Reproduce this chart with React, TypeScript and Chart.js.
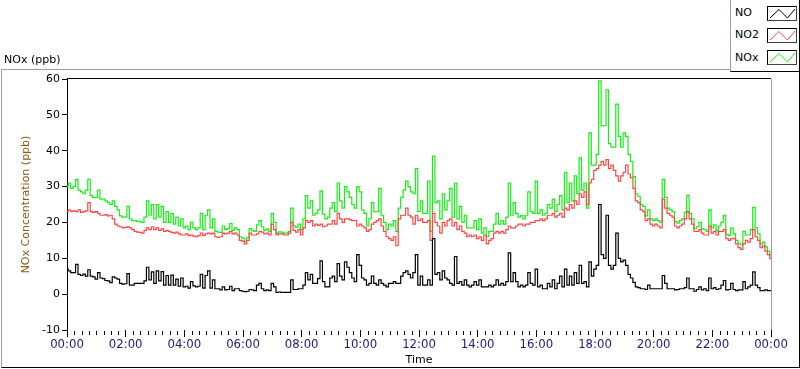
import React, { useEffect, useRef } from "react";
import { Chart, registerables } from "chart.js";

Chart.register(...registerables);

// Sampling interval of the series (minutes) and x range
const SAMPLE_MINUTES = 5;
const X_MIN = 0;
const X_MAX = 1440;
const MAJOR_STEP = 120;
const MINOR_STEP = 15;
const Y_MIN = -10;
const Y_MAX = 60;
const Y_STEP = 10;

// NO (ppb), 5-minute values 00:00 .. 24:00
const NO = [
  7, 6.5, 6, 6, 8.3, 5.5, 5.2, 5.6, 5, 6.8, 5, 4.8,
  4.2, 6, 4.5, 4.3, 3.8, 3.7, 3.2, 4.8, 4.5, 4.2, 3, 2.8,
  2.9, 5.7, 2.5, 2.5, 3, 3, 3, 3, 3.7, 7.5, 4, 6.2,
  3, 6.5, 3.7, 6.3, 2.5, 5.2, 2.5, 5.3, 2.5, 4.2, 2.2, 4.5,
  2, 2.2, 1.7, 3.5, 2.3, 2, 2.2, 5.5, 1.7, 5.2, 6.5, 1.7,
  4, 1.5, 1.5, 1.2, 2, 1.2, 1.3, 2.2, 1, 1.5, 1.5, 1,
  0.8, 0.7, 0.8, 1.3, 1.2, 1, 2.5, 3, 1.5, 1, 1.2, 1,
  3, 2, 0.5, 0.6, 0.5, 0.5, 0.5, 0.5, 4, 1.3, 1.3, 1.5,
  1.5, 2.5, 6, 4, 5.5, 3, 3, 4.3, 9.3, 3.5, 2, 2,
  4.5, 5, 3.5, 8.5, 5, 4, 9, 7.5, 6, 4.5, 3.5, 11,
  8, 4.5, 4, 2.5, 3, 5, 3, 2.5, 4, 3, 2.5, 2,
  3, 3, 3.5, 3, 3, 5, 6, 6.5, 5.5, 4.5, 6, 11,
  2.5, 5, 2.5, 2.5, 4, 2.5, 15.5, 5.5, 6, 4, 6.5, 4.5,
  4, 3, 2.5, 10.5, 3, 3.5, 2.5, 4, 2.5, 2, 2.5, 3.5,
  2.5, 4, 2, 2, 2, 2.5, 2, 2.5, 4, 2.5, 3, 2.5,
  3.5, 11.5, 3.5, 6, 3.5, 2, 2.5, 2, 2.5, 6, 3, 2.5,
  7, 2, 2.5, 1.5, 1.5, 3, 2, 4, 1.5, 3, 5, 2,
  7, 2.5, 5, 2.5, 6, 3, 8, 3, 3.5, 2, 9, 5,
  7, 8, 25, 11, 10, 22, 8, 7, 8, 17, 10, 9,
  9.5, 8, 5.5, 4.5, 3.3, 2, 1.8, 1.5, 1.5, 1.3, 2.5, 1.5,
  1.5, 1.5, 1.5, 1.5, 5.2, 3, 1.5, 1.5, 1.5, 1.2, 1.3, 1.5,
  1.5, 1.8, 4.5, 1.5, 1.5, 0.8, 1.3, 2, 1.2, 1.5, 1, 4.5,
  1.5, 1.8, 1.3, 1.5, 2.5, 3.8, 1.2, 1.3, 3, 1.3, 1, 1.2,
  1.2, 3.5, 1.5, 2, 2.5, 6.2, 2.5, 1.8, 1, 1, 1.2, 1,
  1,
];

// NO2 (ppb)
const NO2 = [
  23, 23.5, 23, 23.2, 23, 23.5, 22.8, 23, 23.2, 25.5, 23, 22.8,
  23, 22.5, 22, 22, 22.2, 21.8, 22, 21, 19.5, 19, 18.8, 18.5,
  18.6, 18.8, 18.5, 18, 17.5, 17.3, 17.2, 17, 17.8, 18.5, 18, 18.8,
  18, 18.5, 17.8, 18.2, 17.5, 17.8, 17.5, 17.2, 17, 17.3, 16.8, 16.5,
  16.5, 16.8, 16.3, 16.5, 16.2, 16, 16.3, 17, 16.3, 16.8, 17, 16.8,
  17, 16, 15.8, 16, 17, 16.8, 17, 17.5, 16.8, 17, 16.5, 15,
  14.8, 14, 15, 17, 16.5, 16.5, 16.8, 17.5, 17.3, 16.8, 17, 16.5,
  19.5, 18, 16.5, 16.8, 16.8, 16.5, 16.5, 17, 20, 17.8, 17.3, 18,
  16.5, 18.5, 20.5, 20, 20.5, 19, 19.5, 19.2, 19.5, 18.8, 19, 19.5,
  19.5, 20.5, 19.5, 22.5, 21, 20, 21, 21, 20.8, 20.5, 20.5, 19,
  19.5, 19, 18.5, 17.5, 18, 19.5, 20, 20.5, 21, 19, 17.5, 16,
  15.5, 15, 16, 13.5, 21, 22, 22, 24, 22, 21.5, 19.5, 22,
  20.5, 21, 20, 20, 20.5, 15, 22.5, 20, 19, 17, 20, 19,
  20.5, 21, 19, 20, 18, 19, 17.5, 17, 16, 16.5, 16, 16.5,
  15.5, 16, 15, 16.5, 14, 15, 15.5, 17, 17.5, 17, 17.5, 17,
  18, 19, 18.5, 18.5, 19, 19.5, 19.5, 19, 19.5, 19.5, 20, 20,
  20.5, 20.5, 21, 20.5, 21, 22, 22, 22.5, 21.5, 22, 22.5, 21.5,
  24, 23.5, 25, 24, 26, 25, 28, 27, 28.5, 25, 31, 32,
  34.5, 35, 36, 37, 36, 37.5, 35, 36, 34.5, 33, 31.5, 33,
  34, 36, 33.5, 32.5, 29.5, 26, 25.5, 23.5, 23, 20.5, 21, 19.5,
  19, 19.5, 19, 18.5, 26.5, 24, 22.5, 22, 21.5, 19, 18.5, 19,
  19.5, 21, 23, 21, 19.5, 17.5, 17.5, 18, 17, 16.5, 16.5, 19,
  17, 17.5, 16.5, 17.5, 17.5, 18, 15.5, 15, 15.5, 15.5, 14, 13,
  12.5, 14, 15, 14.5, 15.5, 18, 16, 15, 13, 13.5, 12, 11,
  10,
];

// NOx (ppb)
const NOX = [
  30, 31, 29.5, 30, 32, 29, 28.5, 28, 29, 32, 27.5, 27,
  27, 29, 26.5, 26.5, 26, 25.5, 25, 26, 24.5, 23.5, 21.8, 21.5,
  21.5, 24.5, 21, 20.5, 20.5, 20.3, 20.2, 20, 21.5, 26, 22, 25,
  21, 25, 21.5, 24.5, 20, 23, 20, 22.5, 19.5, 21.5, 19, 21,
  18.5, 19, 18, 20, 18.5, 18, 18.5, 22.5, 18, 22, 23.5, 18.5,
  21, 17.5, 17.3, 17.2, 19, 18, 18.3, 19.7, 17.8, 18.5, 18, 16,
  15.6, 14.7, 15.8, 18.3, 17.7, 17.5, 19.3, 20.5, 18.8, 17.8, 18.2, 17.5,
  22.5, 20, 17, 17.4, 17.3, 17, 17, 17.5, 24, 19, 18.6, 19.5,
  18, 21, 27.5, 24, 26, 22, 22.5, 23.5, 28.8, 22.3, 21, 21.5,
  24, 25.5, 23, 31, 26, 24, 30, 28.5, 27, 25, 24, 30,
  28.5, 23.5, 22.5, 19, 21, 25.5, 23, 23, 29.5, 22, 20, 18,
  19.5, 19, 20.5, 17.5, 24, 27, 29, 31.5, 30, 28.5, 28, 35,
  23, 26, 22.5, 22.5, 31.5, 17.5, 38.5, 25.5, 26, 21, 28, 23.5,
  26, 29.5, 21.5, 31, 21, 24.5, 20, 22, 18.5, 18.5, 18.5, 20.5,
  18, 21, 17, 18.5, 16, 17.5, 17.5, 19.5, 22.5, 19.5, 20.5, 19.5,
  21.5, 31, 22, 25.5, 22.5, 21.5, 22, 21, 22, 28.5, 23, 22.5,
  31.5, 22.5, 23.5, 22, 22.5, 25, 24, 26.5, 23, 25, 27.5, 23.5,
  34, 25.5, 31, 26, 33, 28, 38, 29, 31, 24, 45, 36,
  36, 39, 59.5, 47, 47, 57, 42, 41, 41, 53, 44, 41,
  45, 44, 39, 37, 32.8, 28, 27.3, 25, 24.5, 21.8, 23.5, 21,
  20.5, 21, 20.5, 20, 32, 27, 24, 23.5, 23, 20.2, 19.8, 20.5,
  21, 22.8, 27.5, 22.5, 21, 18.3, 18.8, 20, 18.2, 18, 17.5, 23.5,
  18.5, 19.3, 17.8, 19, 20, 22, 16.7, 16.3, 18.5, 16.8, 15, 14.2,
  13.7, 17.5, 16.5, 16.5, 18, 24.2, 18.5, 16.8, 14, 14.5, 13.2, 12,
  11,
];

const SERIES_NAMES = ["NO", "NO2", "NOx"];
const SERIES_COLORS = ["#000000", "#ff4646", "#14f014"];

const toPoints = (vals: number[]) =>
  vals.map((y, i) => ({ x: i * SAMPLE_MINUTES, y }));

const fmtTime = (v: number) => {
  const h = Math.floor(v / 60) % 24;
  return `${String(h).padStart(2, "0")}:00`;
};

const FONT = "'DejaVu Sans', sans-serif";
const XTICK_FONT = "'Liberation Sans Narrow', 'DejaVu Sans Condensed', sans-serif";

const framePlugin = {
  id: "lvFrame",
  afterDraw(chart: any) {
    const { ctx, chartArea: a, scales } = chart;
    const x = scales.x;
    ctx.save();
    ctx.lineWidth = 1;
    // top border
    ctx.strokeStyle = "#000";
    ctx.beginPath();
    ctx.moveTo(a.left, Math.floor(a.top) - 0.5);
    ctx.lineTo(a.right, Math.floor(a.top) - 0.5);
    ctx.stroke();
    // right border
    ctx.strokeStyle = "#a0a0a0";
    ctx.beginPath();
    ctx.moveTo(Math.round(a.right) + 0.5, a.top);
    ctx.lineTo(Math.round(a.right) + 0.5, a.bottom);
    ctx.stroke();
    // minor ticks
    ctx.strokeStyle = "#000";
    ctx.beginPath();
    for (let m = X_MIN; m <= X_MAX; m += MINOR_STEP) {
      if (m % MAJOR_STEP === 0) continue;
      const px = Math.round(x.getPixelForValue(m)) + 0.5;
      ctx.moveTo(px, a.bottom + 1);
      ctx.lineTo(px, a.bottom + 5);
    }
    ctx.stroke();
    ctx.restore();
  },
};

function Swatch({ color, top }: { color: string; top: number }) {
  return (
    <div
      style={{
        position: "absolute",
        left: 767,
        top,
        width: 28,
        height: 13,
        borderTop: "1px solid #000",
        borderLeft: "1px solid #000",
        borderRight: "1px solid #404040",
        borderBottom: "1px solid #404040",
        background: "#fff",
      }}
    >
      <svg width={28} height={13} style={{ position: "absolute", left: 0, top: 0 }}>
        <polyline
          points="2,11 11,2.5 19.5,11 27,2"
          fill="none"
          stroke={color}
          strokeWidth={1}
        />
      </svg>
    </div>
  );
}

export default function App() {
  const ref = useRef<HTMLCanvasElement | null>(null);

  useEffect(() => {
    if (!ref.current) return;
    const series = [NO, NO2, NOX];
    const chart = new Chart(ref.current, {
      type: "line",
      data: {
        datasets: series.map((vals, i) => ({
          label: SERIES_NAMES[i],
          data: toPoints(vals),
          borderColor: SERIES_COLORS[i],
          backgroundColor: SERIES_COLORS[i],
          borderWidth: 1.2,
          pointRadius: 0,
          stepped: "middle",
          fill: false,
        })),
      },
      options: {
        animation: false,
        responsive: false,
        events: [],
        layout: { padding: { left: 0, top: 79, right: 29, bottom: 0 } },
        plugins: {
          legend: { display: false },
          tooltip: { enabled: false },
        },
        scales: {
          x: {
            type: "linear",
            min: X_MIN,
            max: X_MAX,
            afterFit: (s: any) => {
              s.height = 39;
            },
            afterBuildTicks: (s: any) => {
              const t = [];
              for (let v = X_MIN; v <= X_MAX; v += MAJOR_STEP) t.push({ value: v });
              s.ticks = t;
            },
            ticks: {
              callback: (v: any) => fmtTime(Number(v)),
              color: "#1c1c78",
              font: { family: XTICK_FONT, size: 13 },
              padding: 0,
              maxRotation: 0,
              autoSkip: false,
            },
            grid: {
              drawOnChartArea: false,
              drawTicks: true,
              tickLength: 7,
              color: "#000",
            },
            border: { display: false },
            title: {
              display: true,
              text: "Time",
              color: "#000",
              font: { family: FONT, size: 11 },
              padding: { top: 0, bottom: 2 },
            },
          },
          y: {
            min: Y_MIN,
            max: Y_MAX,
            afterFit: (s: any) => {
              s.width = 67;
            },
            ticks: {
              stepSize: Y_STEP,
              color: "#000",
              font: { family: FONT, size: 11 },
              padding: 2,
            },
            grid: {
              drawOnChartArea: false,
              drawTicks: true,
              tickLength: 5,
              color: "#000",
            },
            border: { display: true, color: "#000" },
            title: {
              display: true,
              text: "NOx Concentration (ppb)",
              color: "#8c5a14",
              font: { family: FONT, size: 11 },
              padding: { top: 20, bottom: 0 },
            },
          },
        },
      },
      plugins: [framePlugin],
    });
    return () => chart.destroy();
  }, []);

  const textStyle: React.CSSProperties = {
    position: "absolute",
    fontFamily: FONT,
    fontSize: 11,
    lineHeight: "13px",
    color: "#000",
    whiteSpace: "nowrap",
  };

  return (
    <div
      style={{
        position: "fixed",
        left: 0,
        top: 0,
        width: 800,
        height: 369,
        background: "#fff",
        overflow: "hidden",
      }}
    >
      {/* outer frame */}
      <div
        style={{
          position: "absolute",
          left: 1,
          top: 69,
          width: 797,
          height: 297,
          borderTop: "1px solid #a0a0a0",
          borderLeft: "1px solid #a0a0a0",
          borderRight: "1px solid #000",
          borderBottom: "1px solid #000",
        }}
      />
      <canvas
        ref={ref}
        width={800}
        height={369}
        style={{ position: "absolute", left: 0, top: 0 }}
      />
      <div style={{ ...textStyle, left: 4, top: 53 }}>NOx (ppb)</div>
      {/* legend */}
      <div
        style={{
          position: "absolute",
          left: 730,
          top: 0,
          width: 68,
          height: 71,
          background: "#fff",
          borderLeft: "1px solid #a0a0a0",
          borderRight: "1px solid #000",
          borderBottom: "1px solid #000",
        }}
      />
      <div style={{ ...textStyle, left: 735, top: 6 }}>{SERIES_NAMES[0]}</div>
      <div style={{ ...textStyle, left: 735, top: 28 }}>{SERIES_NAMES[1]}</div>
      <div style={{ ...textStyle, left: 735, top: 51 }}>{SERIES_NAMES[2]}</div>
      <Swatch color={SERIES_COLORS[0]} top={6} />
      <Swatch color={SERIES_COLORS[1]} top={28} />
      <Swatch color={SERIES_COLORS[2]} top={50} />
    </div>
  );
}
